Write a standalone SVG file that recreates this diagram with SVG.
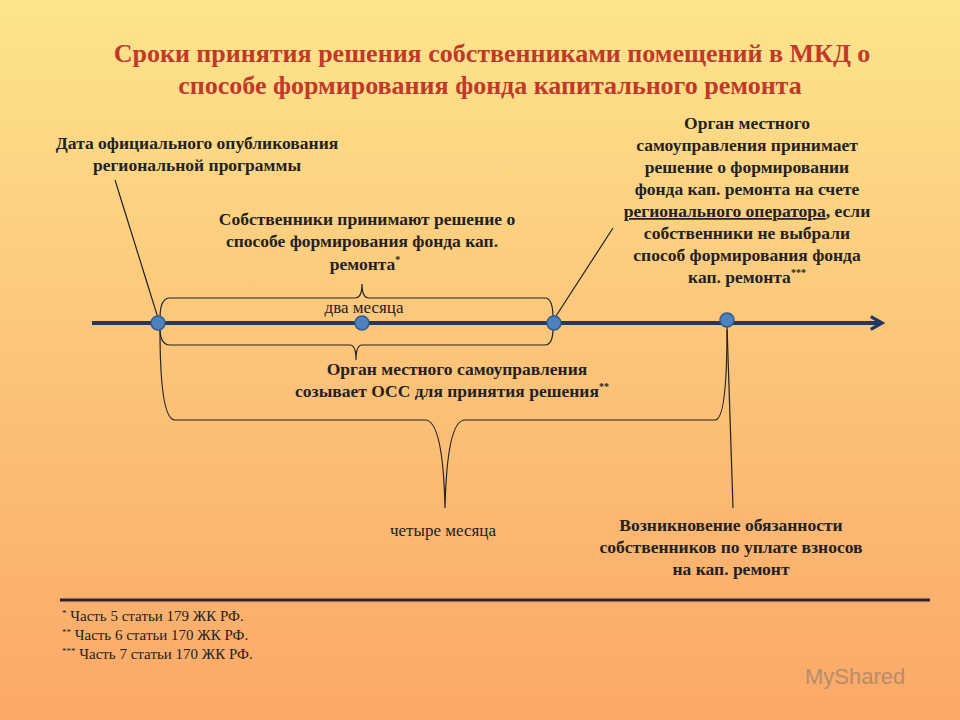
<svg xmlns="http://www.w3.org/2000/svg" width="960" height="720" viewBox="0 0 960 720">
<defs>
<linearGradient id="bg" x1="0" y1="0" x2="0" y2="1"><stop offset="0" stop-color="#fde58c"/><stop offset="0.5" stop-color="#fcc47a"/><stop offset="1" stop-color="#fba868"/></linearGradient>
<marker id="ar" viewBox="0 0 10 10" refX="8" refY="5" markerWidth="4" markerHeight="4" orient="auto"><path d="M1,1 L8,5 L1,9" fill="none" stroke="#1f3864" stroke-width="2"/></marker>
</defs>
<style>
.t{font-family:"Liberation Serif",serif;font-weight:bold;font-size:17.5px;fill:#222;text-anchor:middle}
.n{font-family:"Liberation Serif",serif;font-size:17px;fill:#222;text-anchor:middle}
.f{font-family:"Liberation Serif",serif;font-size:15px;fill:#222}
.ln{fill:none;stroke:#222;stroke-width:1.2}
.dot{fill:#4f81bd;stroke:#2f5b8f;stroke-width:1.5}
</style>
<rect width="960" height="720" fill="url(#bg)"/>
<g id="title" font-family="Liberation Serif,serif" font-weight="bold" font-size="26" fill="#c0392b" text-anchor="middle">
<text x="492" y="62">Сроки принятия решения собственниками помещений в МКД о</text>
<text x="490" y="94">способе формирования фонда капитального ремонта</text>
</g>
<g id="connectors">
<line x1="92" y1="323" x2="882" y2="323" stroke="#1f3864" stroke-width="4" marker-end="url(#ar)"/>
<path class="ln" d="M160,318 Q160,298 170,298 L355,298 Q362,298 362,284 Q362,298 369,298 L545,298 Q553,298 553,318"/>
<path class="ln" d="M160,328 Q160,345 170,345 L350,345 Q356,345 356,360 Q356,345 362,345 L545,345 Q553,345 553,328"/>
<path class="ln" d="M160,330 Q160,420 175,420 L425,420 Q443,420 445,508 Q447,420 465,420 L715,420 Q727,420 727,330"/>
<line class="ln" x1="115" y1="180" x2="158" y2="318"/>
<line class="ln" x1="613" y1="228" x2="556" y2="316"/>
<line class="ln" x1="727" y1="326" x2="733" y2="508"/>
<line x1="60" y1="600" x2="930" y2="600" stroke="#2b2233" stroke-width="3"/>
</g>
<g id="dots">
<circle class="dot" cx="158" cy="323" r="7"/>
<circle class="dot" cx="362" cy="323" r="7"/>
<circle class="dot" cx="554" cy="323" r="7"/>
<circle class="dot" cx="727" cy="320" r="7"/>
</g>
<g id="n1"><text class="t" x="197" y="149">Дата официального опубликования</text><text class="t" x="197" y="171">региональной программы</text></g>
<g id="n2"><text class="t" x="367" y="225">Собственники принимают решение о</text><text class="t" x="362" y="247">способе формирования фонда кап.</text><text class="t" x="365" y="270">ремонта<tspan font-size="10" dy="-7">*</tspan></text></g>
<g id="n3"><text class="n" x="364" y="313">два месяца</text></g>
<g id="n4"><text class="t" x="747" y="129">Орган местного</text><text class="t" x="747" y="151">самоуправления принимает</text><text class="t" x="747" y="173">решение о формировании</text><text class="t" x="747" y="195">фонда кап. ремонта на счете</text><text class="t" x="747" y="217"><tspan text-decoration="underline">регионального оператора</tspan>, если</text><text class="t" x="747" y="239">собственники не выбрали</text><text class="t" x="747" y="261">способ формирования фонда</text><text class="t" x="747" y="283">кап. ремонта<tspan font-size="10" dy="-7">***</tspan></text></g>
<g id="n5"><text class="t" x="457" y="375">Орган местного самоуправления</text><text class="t" x="452" y="397">созывает ОСС для принятия решения<tspan font-size="10" dy="-7">**</tspan></text></g>
<g id="n6"><text class="n" x="443" y="536" font-size="19">четыре месяца</text></g>
<g id="n7"><text class="t" x="731" y="531">Возникновение обязанности</text><text class="t" x="731" y="553">собственников по уплате взносов</text><text class="t" x="731" y="575">на кап. ремонт</text></g>
<g id="notes">
<text class="f" x="62" y="621"><tspan font-size="9" dy="-5">*</tspan><tspan dy="5"> Часть 5 статьи 179 ЖК РФ.</tspan></text>
<text class="f" x="62" y="640"><tspan font-size="9" dy="-5">**</tspan><tspan dy="5"> Часть 6 статьи 170 ЖК РФ.</tspan></text>
<text class="f" x="62" y="659"><tspan font-size="9" dy="-5">***</tspan><tspan dy="5"> Часть 7 статьи 170 ЖК РФ.</tspan></text>
</g>
<g id="watermark"><text x="805" y="684" font-family="Liberation Sans,sans-serif" font-size="22" fill="#8a7a6a" opacity="0.6">MyShared</text></g>
</svg>
